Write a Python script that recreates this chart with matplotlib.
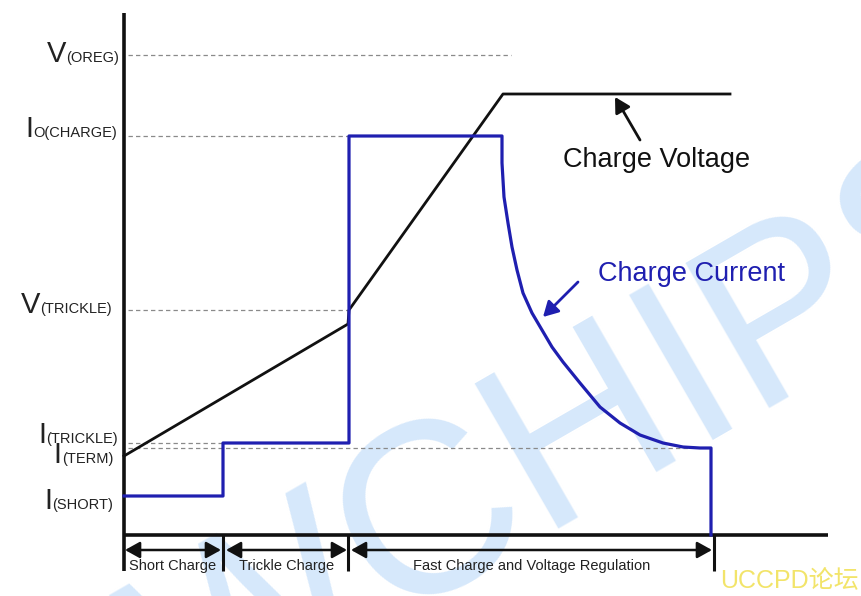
import numpy as np
import matplotlib.pyplot as plt

plt.rcParams["font.family"] = ["Liberation Sans", "DejaVu Sans"]

BLUE = "#1f1fb0"
INK = "#111111"

# level values (arbitrary units, 0 = time axis)
V_OREG = 480
I_OCHARGE = 399
V_TRICKLE = 225
I_TRICKLE = 92
I_TERM = 87
I_SHORT = 39

# phase boundaries (time units, 0 = y axis)
phase_edges = [0, 99, 224, 590]
phase_names = ["Short Charge", "Trickle Charge", "Fast Charge and Voltage Regulation"]

# charge voltage trace
volt_t = [0, 224, 225, 379, 606]
volt_v = [79, 211, 225, 441, 441]

# charge current trace (steps, then the taper)
curr_t = [0, 99, 99, 225, 225, 378, 378, 379, 380, 382, 384, 388, 393, 399,
          408, 418, 428, 439, 456, 476, 496, 516, 539, 559, 576, 587, 587]
curr_i = [I_SHORT, I_SHORT, I_TRICKLE, I_TRICKLE, I_OCHARGE, I_OCHARGE, 372,
          355, 338, 325, 312, 288, 265, 242, 222, 205, 188, 173, 152, 128,
          112, 100, 92, 88, 87, 87, 0]

# level labels: big letter, small part, right edge, baseline
level_labels = [
    ("V", "(OREG)", -5, 473),
    ("I", "O(CHARGE)", -7, 398),
    ("V", "(TRICKLE)", -12, 222),
    ("I", "(TRICKLE)", -6, 92),
    ("I", "(TERM)", -11, 72),
    ("I", "(SHORT)", -11, 26),
]
# dashed guide lines: (level, end time)
guides = [(V_OREG, 387), (I_OCHARGE, 225), (V_TRICKLE, 224),
          (I_TRICKLE, 99), (I_TERM, 566)]

fig = plt.figure(figsize=(8.61, 5.96), dpi=100)
ax = fig.add_axes([0, 0, 1, 1])
ax.set_xlim(-124, 737)
ax.set_ylim(-61, 535)
ax.axis("off")

# watermark
ax.text(489, 38, "WCHIPS", rotation=30, rotation_mode="anchor",
        ha="center", va="baseline", fontsize=175, color="#d6e8fb", zorder=0)
ax.text(665, -46, "UCCPD论坛", fontsize=18, color="#f2e46a",
        ha="center", va="center",
        family=["Liberation Sans", "Noto Sans CJK SC", "DejaVu Sans"], zorder=5)

# axis lines
ax.plot([0, 0], [-36, 522], color=INK, lw=2.6, solid_capstyle="butt")
ax.plot([0, 704], [0, 0], color=INK, lw=2.6, solid_capstyle="butt")
for t in phase_edges[1:]:
    ax.plot([t, t], [0, -36], color=INK, lw=2.2, solid_capstyle="butt")

# guides
for lvl, t_end in guides:
    ax.plot([4, t_end], [lvl, lvl], color="#8a8a8a", lw=0.9,
            linestyle=(0, (3.5, 2.5)), zorder=2)

ax.plot(volt_t, volt_v, color=INK, lw=2.0, zorder=3)
ax.plot(curr_t, curr_i, color=BLUE, lw=2.3, zorder=4, solid_joinstyle="round")

# phase arrows and labels
arrow_gap = [(1, 97), (102, 223), (227, 588)]
for (a, b), name in zip(arrow_gap, phase_names):
    ax.annotate("", xy=(b, -15), xytext=(a, -15),
                arrowprops=dict(arrowstyle="<|-|>,head_length=0.45,head_width=0.25",
                                mutation_scale=20, color=INK, lw=1.8,
                                shrinkA=0, shrinkB=0))
    ax.text((a + b) / 2, -31, name, ha="center", va="center",
            fontsize=10.5, color="#222222")

# annotations
ax.text(533, 375, "Charge Voltage", ha="center", va="center",
        fontsize=19.5, color=INK)
ax.annotate("", xy=(491, 438), xytext=(516, 395),
            arrowprops=dict(arrowstyle="-|>,head_length=0.45,head_width=0.25",
                            mutation_scale=20, color=INK, lw=2,
                            shrinkA=0, shrinkB=0))
ax.text(567, 261, "Charge Current", ha="center", va="center",
        fontsize=19.5, color=BLUE)
ax.annotate("", xy=(419, 218), xytext=(454, 253),
            arrowprops=dict(arrowstyle="-|>,head_length=0.45,head_width=0.25",
                            mutation_scale=20, color=BLUE, lw=2,
                            shrinkA=0, shrinkB=0))

# level labels: small part right aligned, big letter in front of it
renderer = fig.canvas.get_renderer()
for big, small, x_right, base in level_labels:
    t_small = ax.text(x_right, base, small, ha="right", va="baseline",
                      fontsize=10.5, color="#222222")
    bb = t_small.get_window_extent(renderer)
    x_left = ax.transData.inverted().transform((bb.x0, 0))[0]
    ax.text(x_left, base, big, ha="right", va="baseline",
            fontsize=21, color="#222222")

fig.savefig("out.png", dpi=100)
